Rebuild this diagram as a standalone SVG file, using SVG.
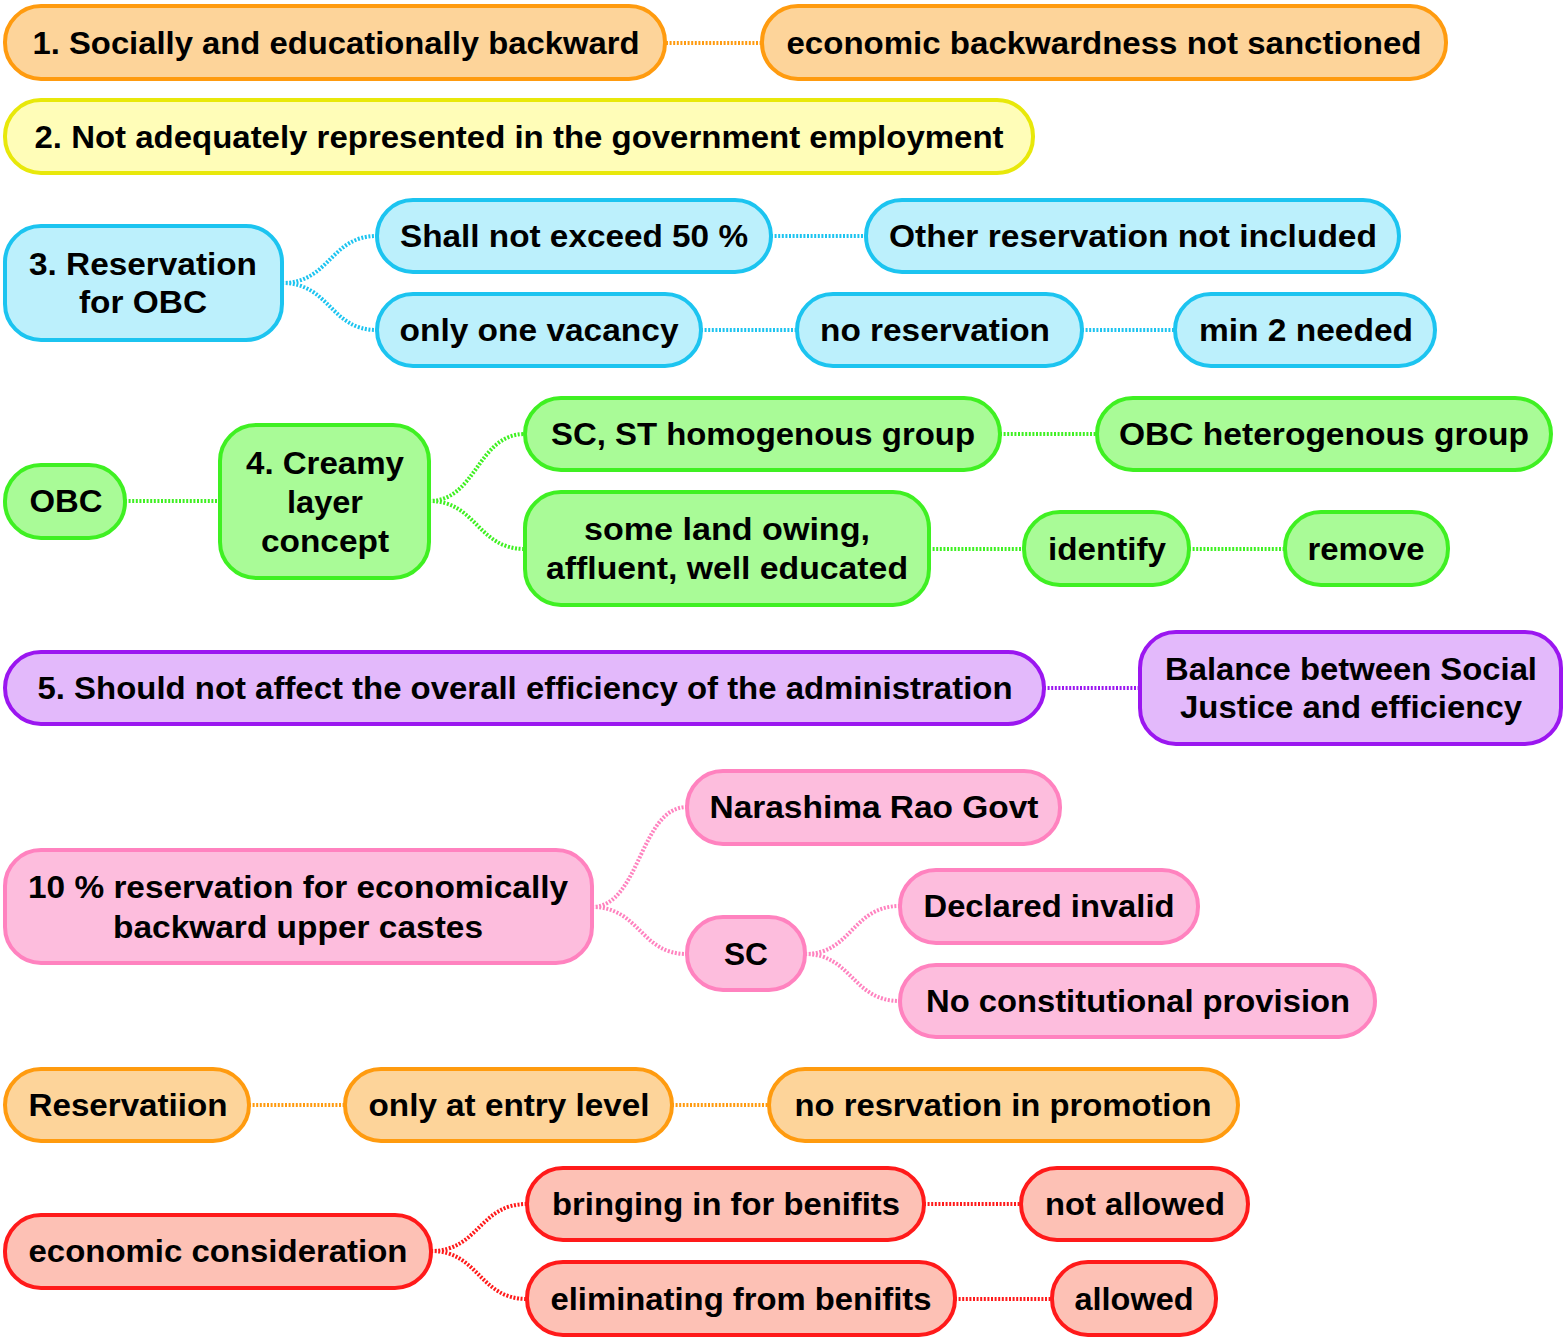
<svg xmlns="http://www.w3.org/2000/svg" width="1563" height="1341" viewBox="0 0 1563 1341">
<style>
text{font-family:"Liberation Sans",Arial,sans-serif;font-weight:bold;font-size:31px;fill:#000;text-anchor:middle}
rect{stroke-width:4}
.c{fill:none;stroke-width:4;stroke-dasharray:2 1.6}
.or rect{fill:#FDD49A;stroke:#FF9B0F}
.ye rect{fill:#FFFDB8;stroke:#E8E80A}
.bl rect{fill:#BCF0FC;stroke:#1CC4F0}
.gr rect{fill:#A9FB97;stroke:#3FF022}
.pu rect{fill:#E3B9FB;stroke:#9B16F0}
.pk rect{fill:#FDBDDD;stroke:#FF82BF}
.rd rect{fill:#FDC1B5;stroke:#FF1A1A}
</style>
<g id="connectors">
<path class="c" stroke="#FF9B0F" d="M666 43H762"/>
<path class="c" stroke="#1CC4F0" d="M282 283C330 283 330 236 377 236M282 283C330 283 330 330 377 330M771 236H866M701 330H797M1082 330H1175"/>
<path class="c" stroke="#3FF022" d="M125 501H220M429 501C477 501 477 434 525 434M429 501C477 501 477 549 525 549M1000 434H1097M929 549H1024M1189 549H1285"/>
<path class="c" stroke="#9B16F0" d="M1044 688H1140"/>
<path class="c" stroke="#FF82BF" d="M592 907C640 907 640 807 687 807M592 907C640 907 640 954 687 954M805 954C852 954 852 906 900 906M805 954C852 954 852 1001 900 1001"/>
<path class="c" stroke="#FF9B0F" d="M249 1105H345M672 1105H769"/>
<path class="c" stroke="#FF1A1A" d="M431 1251C479 1251 479 1204 527 1204M431 1251C479 1251 479 1299 527 1299M924 1204H1021M955 1299H1052"/>
</g>
<g id="n1" class="or"><rect x="5" y="6" width="660" height="73" rx="36"/><text x="336" y="54" textLength="607" lengthAdjust="spacingAndGlyphs">1. Socially and educationally backward</text></g>
<g id="n1a" class="or"><rect x="762" y="6" width="684" height="73" rx="36"/><text x="1104" y="54" textLength="635" lengthAdjust="spacingAndGlyphs">economic backwardness not sanctioned</text></g>
<g id="n2" class="ye"><rect x="5" y="100" width="1028" height="73" rx="36"/><text x="519" y="148" textLength="969" lengthAdjust="spacingAndGlyphs">2. Not adequately represented in the government employment</text></g>
<g id="n3" class="bl"><rect x="5" y="226" width="277" height="114" rx="36"/><text x="143" y="275" textLength="228" lengthAdjust="spacingAndGlyphs">3. Reservation</text><text x="143" y="313" textLength="128" lengthAdjust="spacingAndGlyphs">for OBC</text></g>
<g id="n3a" class="bl"><rect x="377" y="200" width="394" height="72" rx="36"/><text x="574" y="247" textLength="348" lengthAdjust="spacingAndGlyphs">Shall not exceed 50 %</text></g>
<g id="n3b" class="bl"><rect x="866" y="200" width="533" height="72" rx="36"/><text x="1133" y="247" textLength="488" lengthAdjust="spacingAndGlyphs">Other reservation not included</text></g>
<g id="n3c" class="bl"><rect x="377" y="294" width="324" height="72" rx="36"/><text x="539" y="341" textLength="279" lengthAdjust="spacingAndGlyphs">only one vacancy</text></g>
<g id="n3d" class="bl"><rect x="797" y="294" width="285" height="72" rx="36"/><text x="935" y="341" textLength="230" lengthAdjust="spacingAndGlyphs">no reservation</text></g>
<g id="n3e" class="bl"><rect x="1175" y="294" width="260" height="72" rx="36"/><text x="1306" y="341" textLength="214" lengthAdjust="spacingAndGlyphs">min 2 needed</text></g>
<g id="n4o" class="gr"><rect x="5" y="465" width="120" height="73" rx="36"/><text x="66" y="512" textLength="73" lengthAdjust="spacingAndGlyphs">OBC</text></g>
<g id="n4" class="gr"><rect x="220" y="425" width="209" height="153" rx="36"/><text x="325" y="474" textLength="158" lengthAdjust="spacingAndGlyphs">4. Creamy</text><text x="325" y="513" textLength="76" lengthAdjust="spacingAndGlyphs">layer</text><text x="325" y="552" textLength="128" lengthAdjust="spacingAndGlyphs">concept</text></g>
<g id="n4a" class="gr"><rect x="525" y="398" width="475" height="72" rx="36"/><text x="763" y="445" textLength="424" lengthAdjust="spacingAndGlyphs">SC, ST homogenous group</text></g>
<g id="n4b" class="gr"><rect x="1097" y="398" width="454" height="72" rx="36"/><text x="1324" y="445" textLength="410" lengthAdjust="spacingAndGlyphs">OBC heterogenous group</text></g>
<g id="n4c" class="gr"><rect x="525" y="492" width="404" height="113" rx="36"/><text x="727" y="540" textLength="286" lengthAdjust="spacingAndGlyphs">some land owing,</text><text x="727" y="579" textLength="362" lengthAdjust="spacingAndGlyphs">affluent, well educated</text></g>
<g id="n4d" class="gr"><rect x="1024" y="512" width="165" height="73" rx="36"/><text x="1107" y="560" textLength="118" lengthAdjust="spacingAndGlyphs">identify</text></g>
<g id="n4e" class="gr"><rect x="1285" y="512" width="163" height="73" rx="36"/><text x="1366" y="560" textLength="117" lengthAdjust="spacingAndGlyphs">remove</text></g>
<g id="n5" class="pu"><rect x="5" y="652" width="1039" height="72" rx="36"/><text x="525" y="699" textLength="975" lengthAdjust="spacingAndGlyphs">5. Should not affect the overall efficiency of the administration</text></g>
<g id="n5a" class="pu"><rect x="1140" y="632" width="421" height="112" rx="36"/><text x="1351" y="680" textLength="372" lengthAdjust="spacingAndGlyphs">Balance between Social</text><text x="1351" y="718" textLength="342" lengthAdjust="spacingAndGlyphs">Justice and efficiency</text></g>
<g id="n6" class="pk"><rect x="5" y="850" width="587" height="113" rx="36"/><text x="298" y="898" textLength="540" lengthAdjust="spacingAndGlyphs">10 % reservation for economically</text><text x="298" y="938" textLength="370" lengthAdjust="spacingAndGlyphs">backward upper castes</text></g>
<g id="n6a" class="pk"><rect x="687" y="771" width="373" height="73" rx="36"/><text x="874" y="818" textLength="329" lengthAdjust="spacingAndGlyphs">Narashima Rao Govt</text></g>
<g id="n6b" class="pk"><rect x="687" y="917" width="118" height="73" rx="36"/><text x="746" y="965" textLength="44" lengthAdjust="spacingAndGlyphs">SC</text></g>
<g id="n6c" class="pk"><rect x="900" y="870" width="298" height="73" rx="36"/><text x="1049" y="917" textLength="251" lengthAdjust="spacingAndGlyphs">Declared invalid</text></g>
<g id="n6d" class="pk"><rect x="900" y="965" width="475" height="72" rx="36"/><text x="1138" y="1012" textLength="424" lengthAdjust="spacingAndGlyphs">No constitutional provision</text></g>
<g id="n7" class="or"><rect x="5" y="1069" width="244" height="72" rx="36"/><text x="128" y="1116" textLength="199" lengthAdjust="spacingAndGlyphs">Reservatiion</text></g>
<g id="n7a" class="or"><rect x="345" y="1069" width="327" height="72" rx="36"/><text x="509" y="1116" textLength="281" lengthAdjust="spacingAndGlyphs">only at entry level</text></g>
<g id="n7b" class="or"><rect x="769" y="1069" width="469" height="72" rx="36"/><text x="1003" y="1116" textLength="417" lengthAdjust="spacingAndGlyphs">no resrvation in promotion</text></g>
<g id="n8" class="rd"><rect x="5" y="1215" width="426" height="73" rx="36"/><text x="218" y="1262" textLength="379" lengthAdjust="spacingAndGlyphs">economic consideration</text></g>
<g id="n8a" class="rd"><rect x="527" y="1168" width="397" height="72" rx="36"/><text x="726" y="1215" textLength="348" lengthAdjust="spacingAndGlyphs">bringing in for benifits</text></g>
<g id="n8b" class="rd"><rect x="1021" y="1168" width="227" height="72" rx="36"/><text x="1135" y="1215" textLength="180" lengthAdjust="spacingAndGlyphs">not allowed</text></g>
<g id="n8c" class="rd"><rect x="527" y="1262" width="428" height="73" rx="36"/><text x="741" y="1310" textLength="381" lengthAdjust="spacingAndGlyphs">eliminating from benifits</text></g>
<g id="n8d" class="rd"><rect x="1052" y="1262" width="164" height="73" rx="36"/><text x="1134" y="1310" textLength="119" lengthAdjust="spacingAndGlyphs">allowed</text></g>
</svg>
